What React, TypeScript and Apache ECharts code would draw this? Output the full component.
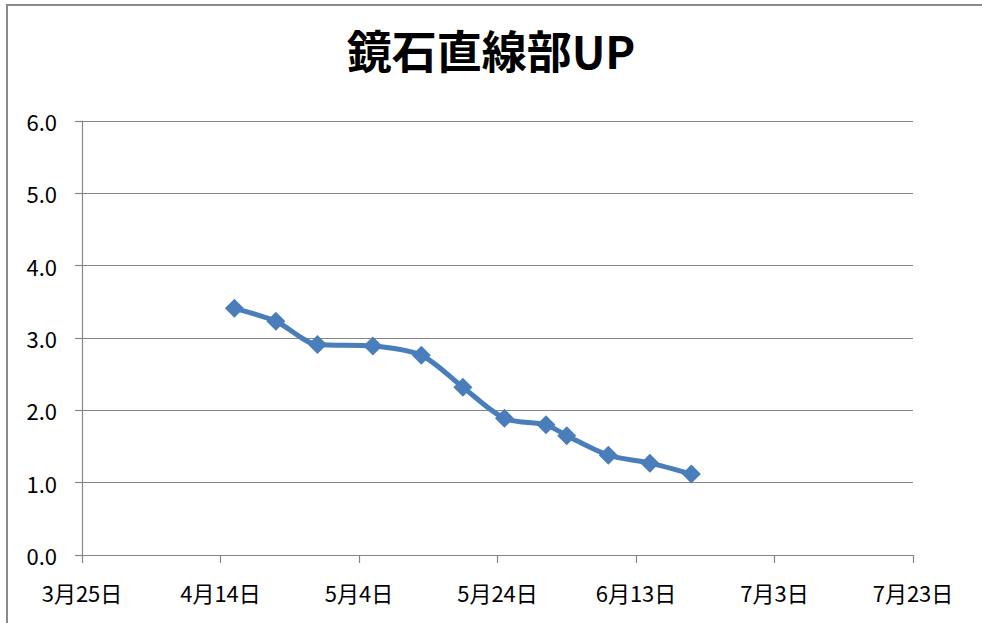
import React, { useEffect, useRef } from "react";
import * as echarts from "echarts";

const title = "鏡石直線部UP";
const axisStart = "2013-03-25";
const axisEnd = "2013-07-23";
const tickDays = 20;
const dates = [
  "2013-04-16", "2013-04-22", "2013-04-28", "2013-05-06", "2013-05-13", "2013-05-19",
  "2013-05-25", "2013-05-31", "2013-06-03", "2013-06-09", "2013-06-15", "2013-06-21",
];
const values = [3.41, 3.23, 2.91, 2.89, 2.76, 2.32, 1.89, 1.80, 1.65, 1.38, 1.27, 1.12];
const yTicks = [0, 1, 2, 3, 4, 5, 6];

const DAY = 86400000;
const t0 = Date.parse(axisStart + "T00:00:00Z");
const toDay = (s: string) => Math.round((Date.parse(s + "T00:00:00Z") - t0) / DAY);

export default function App() {
  const ref = useRef<HTMLDivElement>(null);
  useEffect(() => {
    if (!ref.current) return;
    const chart = echarts.init(ref.current, null, { renderer: "svg" });
    const font = "'Noto Sans CJK JP', sans-serif";
    chart.setOption({
      animation: false,
      backgroundColor: "transparent",
      title: {
        text: title,
        left: "center",
        top: 22,
        textStyle: { fontFamily: font, fontSize: 45, fontWeight: "bold", color: "#000" },
      },
      grid: { left: 82, right: 69, top: 121, bottom: 68, containLabel: false },
      xAxis: {
        type: "value",
        min: 0,
        max: toDay(axisEnd),
        interval: tickDays,
        axisLine: { show: true, lineStyle: { color: "#868686", width: 1.2 } },
        axisTick: { show: true, length: 8, lineStyle: { color: "#868686", width: 1.2 } },
        splitLine: { show: false },
        axisLabel: {
          margin: 26,
          fontFamily: font,
          fontSize: 22,
          color: "#000",
          formatter: (v: number) => {
            const d = new Date(t0 + v * DAY);
            return `${d.getUTCMonth() + 1}月${d.getUTCDate()}日`;
          },
        },
      },
      yAxis: {
        type: "value",
        min: yTicks[0],
        max: yTicks[yTicks.length - 1],
        interval: 1,
        axisLine: { show: true, lineStyle: { color: "#868686", width: 1.2 } },
        axisTick: { show: true, length: 7, lineStyle: { color: "#868686", width: 1.2 } },
        splitLine: { show: true, lineStyle: { color: "#868686", width: 1.2 } },
        axisLabel: {
          margin: 25,
          fontFamily: font,
          fontSize: 22,
          color: "#000",
          formatter: (v: number) => v.toFixed(1),
        },
      },
      series: [
        {
          type: "line",
          data: dates.map((d, i) => [toDay(d), values[i]]),
          smooth: 0.3,
          symbol: "diamond",
          symbolSize: 19,
          lineStyle: { color: "#4A7EBB", width: 5 },
          itemStyle: { color: "#4A7EBB" },
        },
      ],
    });
    return () => chart.dispose();
  }, []);
  return (
    <div style={{ position: "fixed", left: 0, top: 0, width: 982, height: 623, overflow: "hidden", background: "#fff" }}>
      <div
        style={{
          position: "absolute",
          left: 6,
          top: 4,
          width: 1100,
          height: 800,
          border: "2px solid #898989",
          boxSizing: "border-box",
        }}
      />
      <div ref={ref} style={{ position: "absolute", left: 0, top: 0, width: 982, height: 623 }} />
    </div>
  );
}
